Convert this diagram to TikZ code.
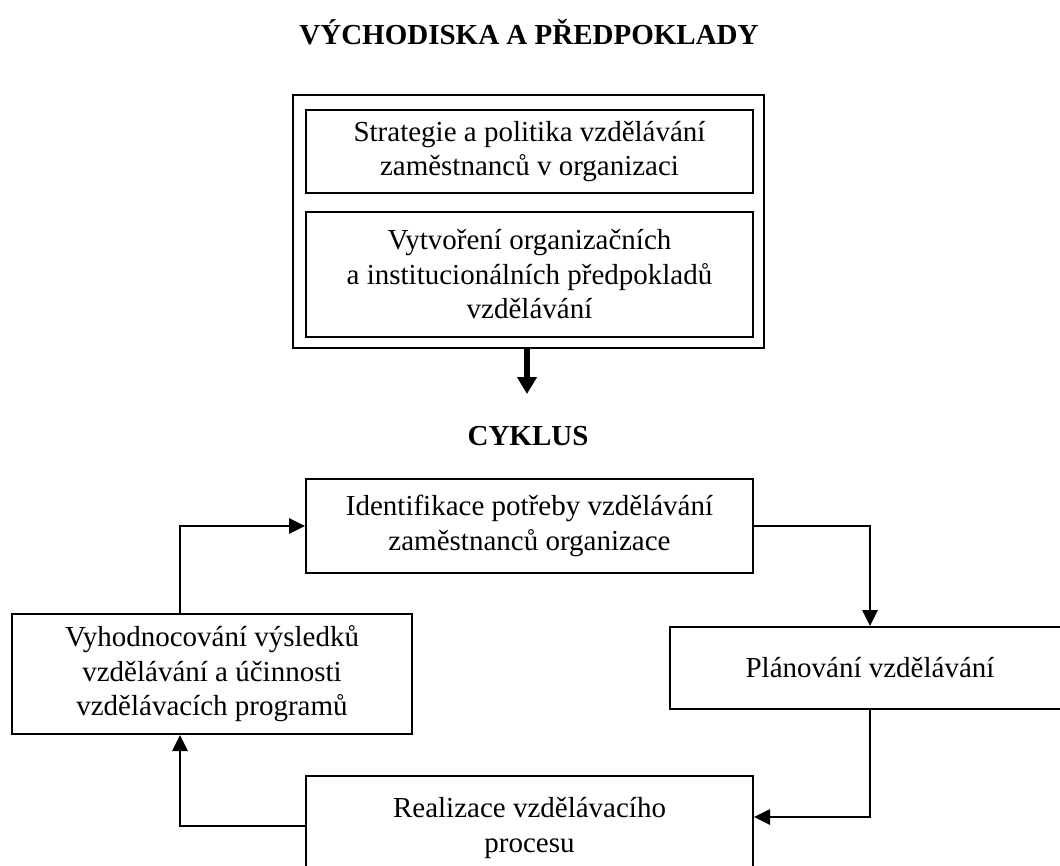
\documentclass[tikz,border=0pt]{standalone}
\usepackage{fontspec}
\setmainfont{Liberation Serif}
\usetikzlibrary{arrows.meta,calc}
\begin{document}
\begin{tikzpicture}[x=1pt,y=-1pt,
  txt/.style={font=\fontsize{29pt}{34.5pt}\selectfont},
  heading/.style={txt,font=\fontsize{29pt}{34.5pt}\selectfont\bfseries},
  stage/.style={txt,draw,line width=2pt,align=center,inner sep=0pt},
  conn/.style={line width=2.7pt,-{Triangle[length=16pt,width=15pt]}},
  bigarrow/.style={line width=5.5pt,-{Triangle[length=17pt,width=19pt]}}]
\useasboundingbox (0,0) rectangle (1060,865);
\clip (0,0) rectangle (1060,865);

% headings
\node[heading] (hPre) at (529,32) {VÝCHODISKA A PŘEDPOKLADY};
\node[heading] (hCyc) at (528,436) {CYKLUS};

% preconditions block
\node[draw,line width=2pt,minimum width=471pt,minimum height=253pt,inner sep=0pt] (outer) at (528.5,221.5) {};
\node[stage,minimum width=447pt,minimum height=83pt] (strat) at (529.5,151.5)
  {Strategie a politika vzdělávání\\zaměstnanců v organizaci};
\node[stage,minimum width=447pt,minimum height=125pt] (inst) at (529.5,274.5)
  {Vytvoření organizačních\\a institucionálních předpokladů\\vzdělávání};
\coordinate (preEnd) at (527,394);
\draw[bigarrow] (outer.south -| preEnd) -- (preEnd);

% cycle
\node[stage,minimum width=447pt,minimum height=94pt] (ident) at (529.5,526)
  {Identifikace potřeby vzdělávání\\zaměstnanců organizace};
\node[stage,minimum width=400pt,minimum height=82pt] (plan) at (870,668)
  {Plánování vzdělávání};
\node[stage,minimum width=447pt,minimum height=104pt] (real) at (529.5,828)
  {Realizace vzdělávacího\\procesu};
\node[stage,minimum width=400pt,minimum height=120pt] (eval) at (212,674)
  {Vyhodnocování výsledků\\vzdělávání a účinnosti\\vzdělávacích programů};

\coordinate (leftRail) at (180,0);
\draw[conn] (ident.east) -| (plan.north);
\draw[conn] (plan.south) |- ($(real.east)+(0,-11)$);
\draw[conn] ($(real.west)+(0,-2)$) -| (leftRail |- eval.south);
\draw[conn] (leftRail |- eval.north) |- (ident.west);
\end{tikzpicture}
\end{document}
